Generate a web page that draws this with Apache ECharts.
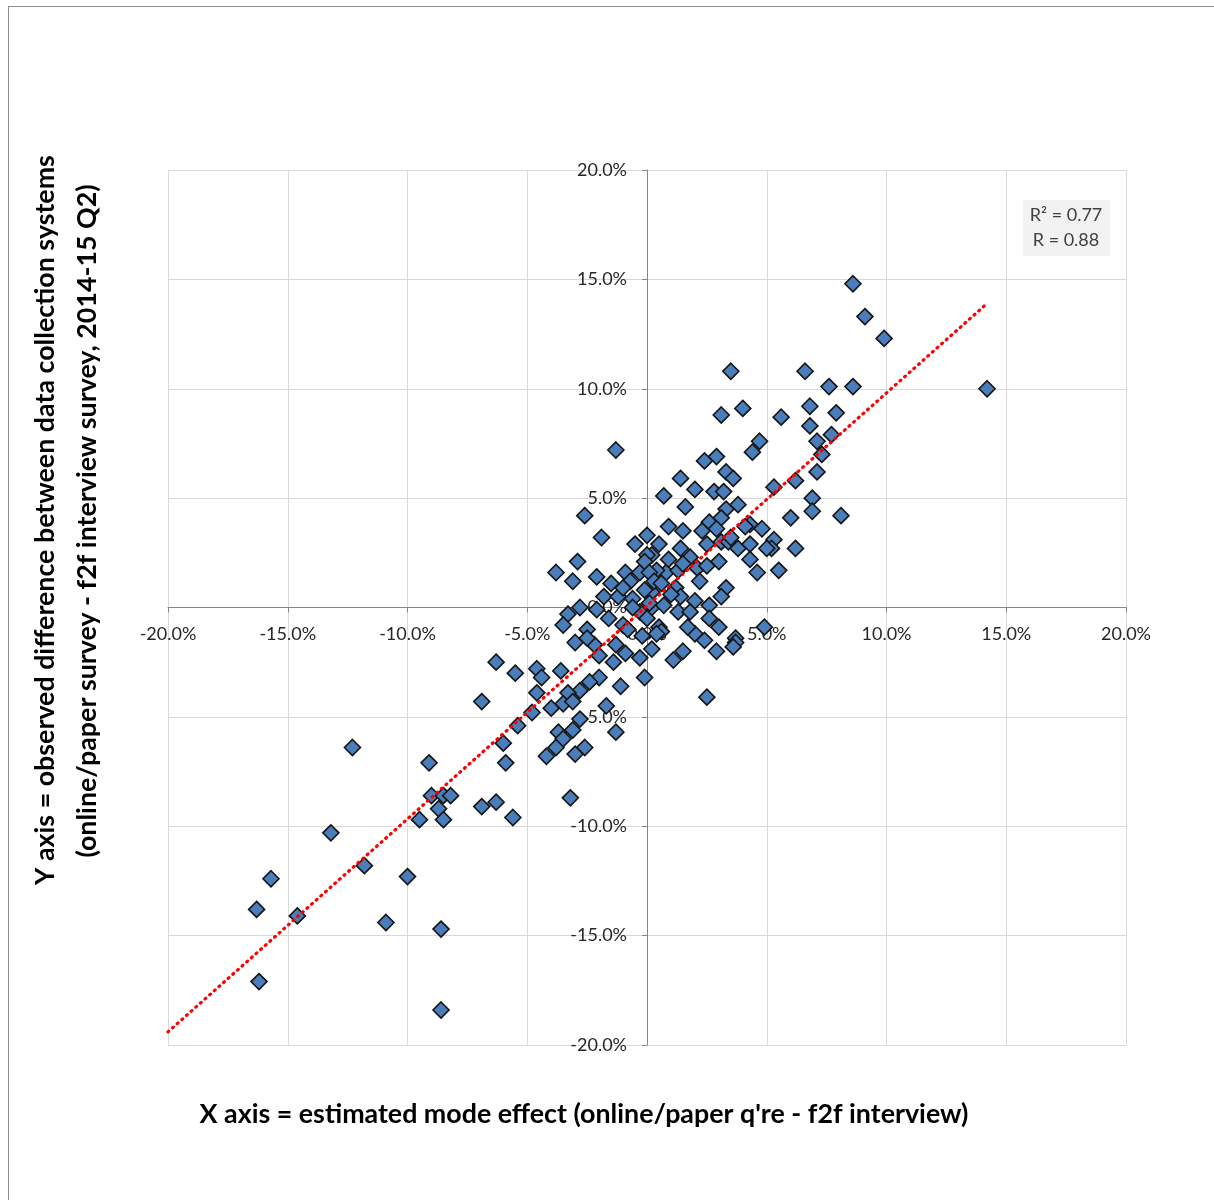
<!DOCTYPE html>
<html>
<head>
<meta charset="utf-8">
<title>Mode effect scatter</title>
<script src="https://cdn.jsdelivr.net/npm/echarts@6.0.0/dist/echarts.min.js"></script>
<style>
html, body { margin: 0; padding: 0; background: #fff; }
#chart { position: absolute; left: 0; top: 0; width: 1214px; height: 1200px; }
#frame { position: absolute; left: 8px; top: 6px; width: 1230px; height: 1230px; border: 1px solid #8c8c8c; pointer-events: none; }
</style>
</head>
<body>
<div id="chart"></div>
<div id="frame"></div>
<script>
// x = estimated mode effect (%), y = observed difference (%)
var xValues = [
  8.6, 9.1, 9.9, 14.2, 6.6, 3.5, 7.6, 8.6, 4.0, 6.8, 7.9, 3.1, 5.6, 6.8, 7.1, 7.7, 4.7, 4.4, 7.3, -1.3,
  2.9, 2.4, 3.3, 7.1, 3.6, 1.4, 2.0, 2.8, 3.2, 0.7, 6.2, 5.3, 6.9, 1.6, 3.3, 3.8, 2.6, 3.1, 0.9, 1.5,
  2.3, 4.3, 4.1, 4.8, 2.9, 6.9, 6.0, 8.1, 5.3, 5.2, 6.2, 5.5, 1.4, 1.8, 2.5, 3.1, 3.4, 3.8, 4.3, 5.0,
  4.3, 3.0, 4.6, 0.2, 0.8, 1.3, 1.5, 2.1, 2.5, 0.4, 2.2, 3.3, 3.1, 1.2, 1.4, 2.0, 2.6, 0.2, 0.2, 1.3,
  1.8, 2.6, 4.9, 3.0, 3.7, 0.5, 0.6, 0.4, 2.0, 3.7, 3.6, 2.9, 1.5, 1.1, 0.2, 2.5, -2.6, -1.9, 0.0, -3.8,
  -2.9, -3.1, -2.1, 0.0, -0.9, -0.7, -0.3, -1.8, -1.2, -0.6, -2.8, -2.1, -1.6, -3.3, -3.5, -1.0, -2.5, -0.3, 0.0, -3.0,
  -2.2, -2.5, -1.3, -0.9, -0.3, -2.0, -1.4, -0.1, -4.6, -4.4, -3.6, -2.0, -2.4, -2.8, -3.3, -4.6, -1.1, -3.5, -3.1, -1.7,
  -4.0, -4.8, -2.8, -1.3, -3.1, -3.7, -3.5, -3.8, -2.6, -4.2, -3.0, -3.2, -6.3, -5.5, -6.9, -5.4, -6.0, -5.9, -6.9, -6.3,
  -5.6, -9.1, -9.0, -8.5, -8.2, -8.7, -9.5, -8.5, -12.3, -13.2, -11.8, -10.0, -15.7, -16.3, -14.6, -10.9, -8.6, -16.2, -8.6, -0.1,
  0.1, 0.3, -0.1, 0.1, -0.8, -0.2, -0.6, 0.5, 0.6, -1.0, -1.5, -0.5, 0.9, 1.0, 0.7, 1.7, 2.4, 3.5
];
var yValues = [
  14.8, 13.3, 12.3, 10.0, 10.8, 10.8, 10.1, 10.1, 9.1, 9.2, 8.9, 8.8, 8.7, 8.3, 7.6, 7.9, 7.6, 7.1, 7.0, 7.2,
  6.9, 6.7, 6.2, 6.2, 5.9, 5.9, 5.4, 5.3, 5.3, 5.1, 5.8, 5.5, 5.0, 4.6, 4.5, 4.7, 3.9, 4.1, 3.7, 3.5,
  3.5, 3.8, 3.7, 3.6, 3.6, 4.4, 4.1, 4.2, 3.1, 2.7, 2.7, 1.7, 2.7, 2.3, 2.9, 3.0, 3.0, 2.7, 2.9, 2.7,
  2.2, 2.1, 1.6, 2.4, 1.6, 1.7, 2.0, 1.8, 1.9, 1.7, 1.2, 0.9, 0.5, 0.9, 0.5, 0.3, 0.1, 0.7, 0.0, -0.2,
  -0.2, -0.5, -0.9, -0.9, -1.4, -0.9, -1.1, -1.2, -1.2, -1.6, -1.8, -2.0, -2.0, -2.4, -1.9, -4.1, 4.2, 3.2, 3.3, 1.6,
  2.1, 1.2, 1.4, 2.4, 1.6, 1.2, 1.6, 0.5, 0.5, 0.4, 0.0, -0.1, -0.5, -0.3, -0.8, -0.8, -1.0, -0.2, -0.5, -1.6,
  -1.7, -1.4, -1.7, -2.1, -2.3, -2.2, -2.5, -3.2, -2.8, -3.2, -2.9, -3.2, -3.4, -3.8, -3.9, -3.9, -3.6, -4.4, -4.3, -4.5,
  -4.6, -4.8, -5.1, -5.7, -5.6, -5.7, -6.0, -6.4, -6.4, -6.8, -6.7, -8.7, -2.5, -3.0, -4.3, -5.4, -6.2, -7.1, -9.1, -8.9,
  -9.6, -7.1, -8.6, -8.6, -8.6, -9.2, -9.7, -9.7, -6.4, -10.3, -11.8, -12.3, -12.4, -13.8, -14.1, -14.4, -14.7, -17.1, -18.4, 2.1,
  1.6, 1.2, 0.8, 0.2, -1.0, -1.3, 0.0, 2.9, 1.1, 0.9, 1.1, 2.9, 2.2, 0.6, 0.1, -0.9, -1.5, 3.2
];
// linear trend line end points
var trendX = [-20, 14.2];
var trendY = [-19.4, 13.9];
var tickLabels = ['-20.0%', '-15.0%', '-10.0%', '-5.0%', '0.0%', '5.0%', '10.0%', '15.0%', '20.0%'];
var statLines = ['R² = 0.77', 'R = 0.88'];

var points = xValues.map(function (x, i) { return [x, yValues[i]]; });
var trend = trendX.map(function (x, i) { return [x, trendY[i]]; });

var myChart = echarts.init(document.getElementById('chart'));
var labelFmt = function (v) { return tickLabels[Math.round((v + 20) / 5)]; };
var font = 'Lato, "Open Sans", sans-serif';

// axes are drawn through the plot centre (Excel style crossing at 0)
var option = {
  animation: false,
  backgroundColor: '#fff',
  grid: { left: 168, top: 170, width: 958, height: 875, containLabel: false },
  xAxis: {
    type: 'value', min: -20, max: 20, interval: 5,
    position: 'bottom', offset: -437.5,
    axisLine: { onZero: false, lineStyle: { color: '#868686', width: 1 } },
    axisTick: { show: true, length: 5, lineStyle: { color: '#868686' } },
    axisLabel: { formatter: labelFmt, color: '#262626', fontSize: 18, fontFamily: font, margin: 18 },
    splitLine: { show: true, lineStyle: { color: '#d9d9d9', width: 1 } }
  },
  yAxis: {
    type: 'value', min: -20, max: 20, interval: 5,
    position: 'left', offset: -479,
    axisLine: { onZero: false, lineStyle: { color: '#868686', width: 1 } },
    axisTick: { show: true, length: 5, lineStyle: { color: '#868686' } },
    axisLabel: { formatter: labelFmt, color: '#262626', fontSize: 18, fontFamily: font, margin: 20 },
    splitLine: { show: true, lineStyle: { color: '#d9d9d9', width: 1 } }
  },
  series: [
    {
      type: 'scatter',
      data: points,
      symbol: 'diamond',
      symbolSize: 16,
      z: 3,
      itemStyle: { color: '#4a7ebb', borderColor: '#141414', borderWidth: 1.6, opacity: 1 }
    },
    {
      type: 'line',
      data: trend,
      showSymbol: false,
      silent: true,
      z: 4,
      lineStyle: { color: '#ff0000', width: 3.2, type: [1, 5.2], cap: 'round' }
    }
  ],
  graphic: [
    {
      type: 'text', x: 45, y: 520, rotation: Math.PI / 2,
      style: { text: 'Y axis = observed difference between data collection systems', fill: '#000',
        font: 'bold 26.8px ' + font, textAlign: 'center', textVerticalAlign: 'middle' }
    },
    {
      type: 'text', x: 87, y: 521, rotation: Math.PI / 2,
      style: { text: '(online/paper survey - f2f interview survey, 2014-15 Q2)', fill: '#000',
        font: 'bold 26.8px ' + font, textAlign: 'center', textVerticalAlign: 'middle' }
    },
    {
      type: 'text', x: 584, y: 1114,
      style: { text: "X axis = estimated mode effect (online/paper q're - f2f interview)", fill: '#000',
        font: 'bold 26.8px ' + font, textAlign: 'center', textVerticalAlign: 'middle' }
    },
    {
      type: 'rect', shape: { x: 1023, y: 200, width: 87, height: 56 },
      style: { fill: '#f2f2f2' }
    },
    {
      type: 'text', x: 1066, y: 215,
      style: { text: statLines[0], fill: '#404040', font: '18px ' + font, textAlign: 'center', textVerticalAlign: 'middle' }
    },
    {
      type: 'text', x: 1066, y: 240,
      style: { text: statLines[1], fill: '#404040', font: '18px ' + font, textAlign: 'center', textVerticalAlign: 'middle' }
    }
  ]
};
myChart.setOption(option);
</script>
</body>
</html>
